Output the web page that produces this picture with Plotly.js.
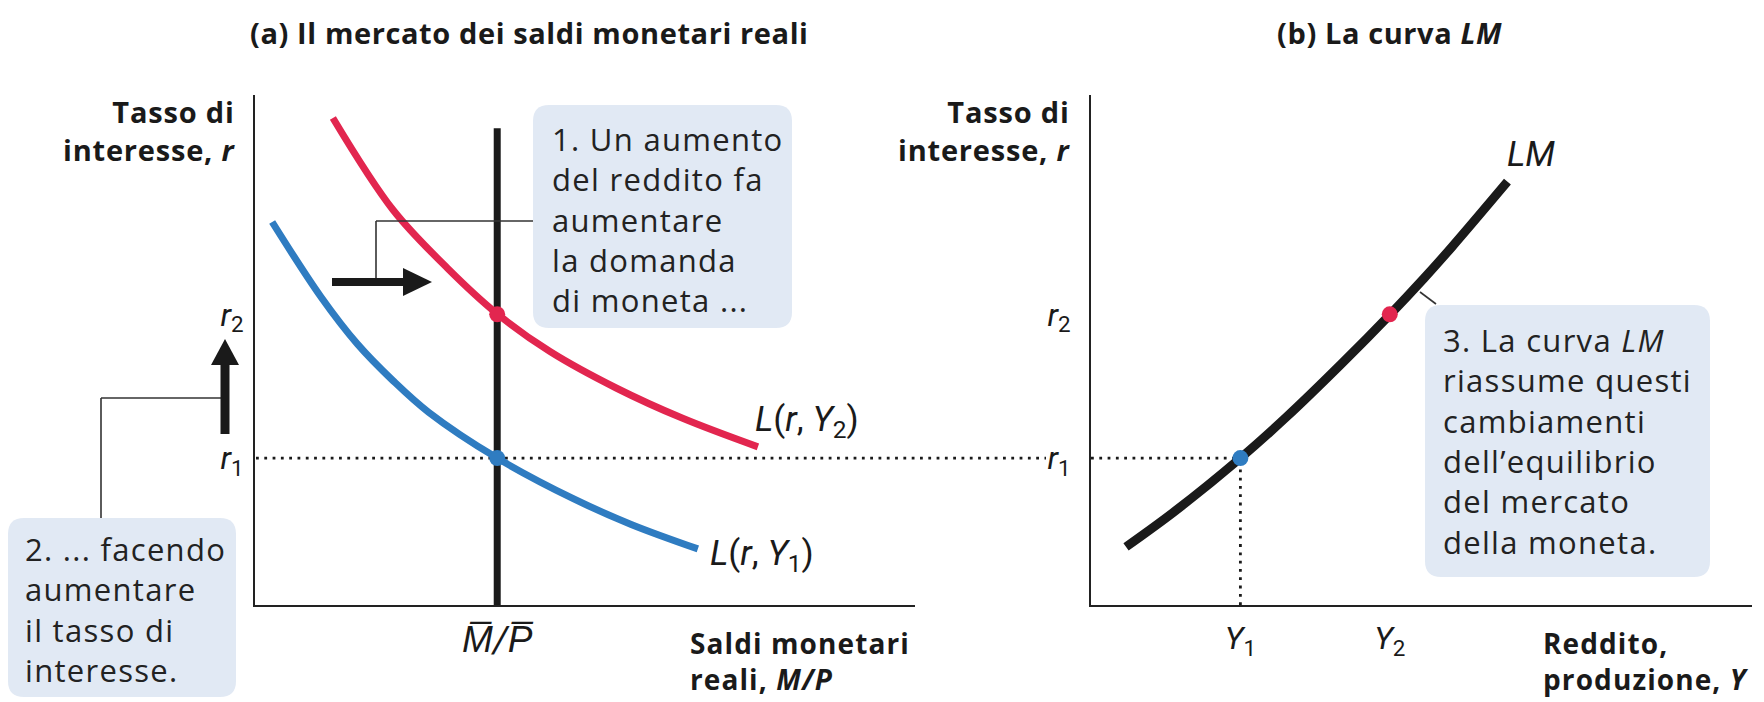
<!DOCTYPE html>
<html>
<head>
<meta charset="utf-8">
<script src="https://cdn.plot.ly/plotly-3.0.1.min.js"></script>
<style>html,body{margin:0;padding:0;background:#fff;}#chart{width:1764px;height:702px;}</style>
</head>
<body>
<div id="chart"></div>
<script>
// ---- Data ----
const R1 = 2.88;            // interest rate r1
const R2 = 5.70;            // interest rate r2
const MP = 3.67;            // fixed real money supply M/P
const MP_TOP = 9.35;        // top of the money-supply line
const L2_x = [1.18, 2.09, 2.92, 3.67, 4.47, 5.48, 6.48, 7.62];
const L2_y = [9.55, 7.75, 6.60, 5.71, 4.97, 4.25, 3.66, 3.10];
const L1_x = [0.26, 1.00, 1.55, 2.09, 2.63, 3.67, 4.83, 5.70, 6.71];
const L1_y = [7.51, 6.04, 5.12, 4.40, 3.78, 2.88, 2.08, 1.58, 1.10];
const LM_x = [0.53, 1.27, 2.26, 2.96, 3.79, 4.52, 5.04, 5.46, 6.30];
const LM_y = [1.14, 1.84, 2.88, 3.69, 4.73, 5.69, 6.41, 7.02, 8.30];
const Y1 = 2.26, Y2 = 4.52; // income levels
const rTickText = ['<i>r</i><sub>1</sub>', '<i>r</i><sub>2</sub>'];
const mpTickText = ['<i>M\u0305/P\u0305</i>'];
const yTickText = ['<i>Y</i><sub>1</sub>', '<i>Y</i><sub>2</sub>'];

// ---- Styling ----
const W = 1764, H = 702;
const px = v => v / W;
const py = v => 1 - v / H;
const RED = '#e2264f', BLUE = '#2f7cc1', INK = '#1a1a1a', BOX = '#e1e9f4';
const FONT = 'Roboto, "Open Sans", Arial, sans-serif';
const BOLDFONT = '"Open Sans", Roboto, Arial, sans-serif';
const BOXFONT = '"Open Sans", Roboto, Arial, sans-serif';
const DOT = '2.8px,5.5px';

const sp = (t, ls) => t.split('<br>').map(l => `<span style="letter-spacing:${ls}px">${l}</span>`).join('<br>');

const traces = [
  {x: [MP, MP], y: [0, MP_TOP], xaxis: 'x', yaxis: 'y', mode: 'lines',
   line: {color: INK, width: 7}, hoverinfo: 'skip'},
  {x: L2_x, y: L2_y, xaxis: 'x', yaxis: 'y', mode: 'lines',
   line: {color: RED, width: 7, shape: 'spline', smoothing: 1}, hoverinfo: 'skip'},
  {x: L1_x, y: L1_y, xaxis: 'x', yaxis: 'y', mode: 'lines',
   line: {color: BLUE, width: 7, shape: 'spline', smoothing: 1}, hoverinfo: 'skip'},
  {x: [MP], y: [R2], xaxis: 'x', yaxis: 'y', mode: 'markers',
   marker: {color: RED, size: 16}, hoverinfo: 'skip'},
  {x: [MP], y: [R1], xaxis: 'x', yaxis: 'y', mode: 'markers',
   marker: {color: BLUE, size: 16}, hoverinfo: 'skip'},
  // right panel
  {x: [0, Y1], y: [R1, R1], xaxis: 'x2', yaxis: 'y2', mode: 'lines',
   line: {color: INK, width: 2.8, dash: DOT}, hoverinfo: 'skip'},
  {x: [Y1, Y1], y: [0, R1], xaxis: 'x2', yaxis: 'y2', mode: 'lines',
   line: {color: INK, width: 2.8, dash: DOT}, hoverinfo: 'skip'},
  {x: LM_x, y: LM_y, xaxis: 'x2', yaxis: 'y2', mode: 'lines',
   line: {color: INK, width: 9, shape: 'spline', smoothing: 1}, hoverinfo: 'skip'},
  {x: [Y2], y: [R2], xaxis: 'x2', yaxis: 'y2', mode: 'markers',
   marker: {color: RED, size: 16}, hoverinfo: 'skip'},
  {x: [Y1], y: [R1], xaxis: 'x2', yaxis: 'y2', mode: 'markers',
   marker: {color: BLUE, size: 16}, hoverinfo: 'skip'}
];

function roundRect(x0, y0, x1, y1, r) {
  const rx = r / W, ry = r / H;
  const X0 = px(x0), X1 = px(x1), Y0 = py(y0), Y1b = py(y1);
  return `M ${X0 + rx} ${Y0} L ${X1 - rx} ${Y0} Q ${X1} ${Y0} ${X1} ${Y0 - ry} ` +
         `L ${X1} ${Y1b + ry} Q ${X1} ${Y1b} ${X1 - rx} ${Y1b} L ${X0 + rx} ${Y1b} ` +
         `Q ${X0} ${Y1b} ${X0} ${Y1b + ry} L ${X0} ${Y0 - ry} Q ${X0} ${Y0} ${X0 + rx} ${Y0} Z`;
}
function poly(pts) {
  return 'M ' + pts.map(p => `${px(p[0])} ${py(p[1])}`).join(' L ') + ' Z';
}
function seg(x0, y0, x1, y1, w, color) {
  return {type: 'line', xref: 'paper', yref: 'paper', x0: px(x0), y0: py(y0), x1: px(x1), y1: py(y1),
          line: {color: color || '#333', width: w || 1.6}, layer: 'above'};
}

const shapes = [
  // callout boxes
  {type: 'path', xref: 'paper', yref: 'paper', path: roundRect(533, 105, 792, 328, 16),
   fillcolor: BOX, line: {width: 0}, layer: 'below'},
  {type: 'path', xref: 'paper', yref: 'paper', path: roundRect(8, 518, 236, 697, 16),
   fillcolor: BOX, line: {width: 0}, layer: 'below'},
  {type: 'path', xref: 'paper', yref: 'paper', path: roundRect(1425, 305, 1710, 577, 16),
   fillcolor: BOX, line: {width: 0}, layer: 'below'},
  // r1 dotted guide across the left panel up to the right panel label
  {type: 'line', xref: 'paper', yref: 'y', x0: px(256), x1: px(1046), y0: R1, y1: R1,
   line: {color: INK, width: 2.8, dash: DOT}, layer: 'below'},
  // leader lines
  seg(376, 282, 376, 221), seg(376, 221, 533, 221),
  seg(225, 398, 101, 398), seg(101, 398, 101, 518),
  seg(1420, 292, 1436, 304),
  // horizontal shift arrow
  seg(332, 282, 407, 282, 8, INK),
  {type: 'path', xref: 'paper', yref: 'paper', path: poly([[403, 268], [432, 282], [403, 296]]),
   fillcolor: INK, line: {width: 0}, layer: 'above'},
  // vertical rise arrow
  seg(225, 434, 225, 362, 9, INK),
  {type: 'path', xref: 'paper', yref: 'paper', path: poly([[211, 365], [225, 339], [239, 365]]),
   fillcolor: INK, line: {width: 0}, layer: 'above'}
];

function ann(x, y, text, opts) {
  return Object.assign({xref: 'paper', yref: 'paper', x: px(x), y: py(y), text: text,
    showarrow: false, xanchor: 'center', yanchor: 'middle',
    font: {family: FONT, size: 27, color: INK}}, opts || {});
}
const titleFont = {family: BOLDFONT, size: 29, color: INK, weight: 700};
const bold = {family: BOLDFONT, size: 29, color: INK, weight: 700};
const boldLow = {family: BOLDFONT, size: 28, color: INK, weight: 700};
const boxFont = {family: BOXFONT, size: 31, color: '#222'};
const itFont = {family: FONT, size: 35, color: INK};

const annotations = [
  ann(529, 32, sp('(a) Il mercato dei saldi monetari reali', 0.6), {font: titleFont}),
  ann(1389, 32, sp('(b) La curva <i>LM</i>', 0.6), {font: titleFont}),
  ann(238, 131, sp('Tasso di<br>interesse, <i>r</i>', 0.8), {font: bold, xanchor: 'right', align: 'right'}),
  ann(1073, 131, sp('Tasso di<br>interesse, <i>r</i>', 0.8), {font: bold, xanchor: 'right', align: 'right'}),
  ann(688, 661, sp('Saldi monetari<br>reali, <i>M/P</i>', 1.1), {font: boldLow, xanchor: 'left', align: 'left'}),
  ann(1541, 661, sp('Reddito,<br>produzione, <i>Y</i>', 1.1), {font: boldLow, xanchor: 'left', align: 'left'}),
  ann(753, 421, '<i>L</i>(<i>r</i>, <i>Y</i><sub>2</sub>)', {font: itFont, xanchor: 'left'}),
  ann(708, 555, '<i>L</i>(<i>r</i>, <i>Y</i><sub>1</sub>)', {font: itFont, xanchor: 'left'}),
  ann(1531, 154, '<i>LM</i>', {font: itFont}),
  ann(550, 219, sp('1. Un aumento<br>del reddito fa<br>aumentare<br>la domanda<br>di moneta ...', 1.3),
      {font: boxFont, xanchor: 'left', align: 'left'}),
  ann(23, 609, sp('2. ... facendo<br>aumentare<br>il tasso di<br>interesse.', 1.3),
      {font: boxFont, xanchor: 'left', align: 'left'}),
  ann(1441, 441, sp('3. La curva <i>LM</i><br>riassume questi<br>cambiamenti<br>dell\u2019equilibrio<br>del mercato<br>della moneta.', 1.3),
      {font: boxFont, xanchor: 'left', align: 'left'})
];

const axisCommon = {range: [0, 10], showgrid: false, zeroline: false, showline: true,
  linecolor: '#222', linewidth: 2, ticks: '', fixedrange: true,
  tickfont: {family: FONT, size: 32, color: INK}};
const yDomain = [py(605), py(95)];

const layout = {
  width: W, height: H, margin: {l: 0, r: 0, t: 0, b: 0},
  paper_bgcolor: '#fff', plot_bgcolor: 'rgba(0,0,0,0)', showlegend: false,
  xaxis: Object.assign({}, axisCommon, {domain: [px(255), px(915)], anchor: 'y',
    tickmode: 'array', tickvals: [MP], ticktext: mpTickText, ticklabelstandoff: 1,
    tickfont: {family: FONT, size: 37, color: INK}}),
  yaxis: Object.assign({}, axisCommon, {domain: yDomain, anchor: 'x',
    tickmode: 'array', tickvals: [R1, R2], ticktext: rTickText, ticklabelstandoff: 3}),
  xaxis2: Object.assign({}, axisCommon, {domain: [px(1091), px(1752)], anchor: 'y2',
    tickmode: 'array', tickvals: [Y1, Y2], ticktext: yTickText, ticklabelstandoff: 4}),
  yaxis2: Object.assign({}, axisCommon, {domain: yDomain, anchor: 'x2',
    tickmode: 'array', tickvals: [R1, R2], ticktext: rTickText, ticklabelstandoff: 12}),
  shapes: shapes,
  annotations: annotations
};

Plotly.newPlot('chart', traces, layout, {staticPlot: true, displayModeBar: false});
</script>
</body>
</html>
